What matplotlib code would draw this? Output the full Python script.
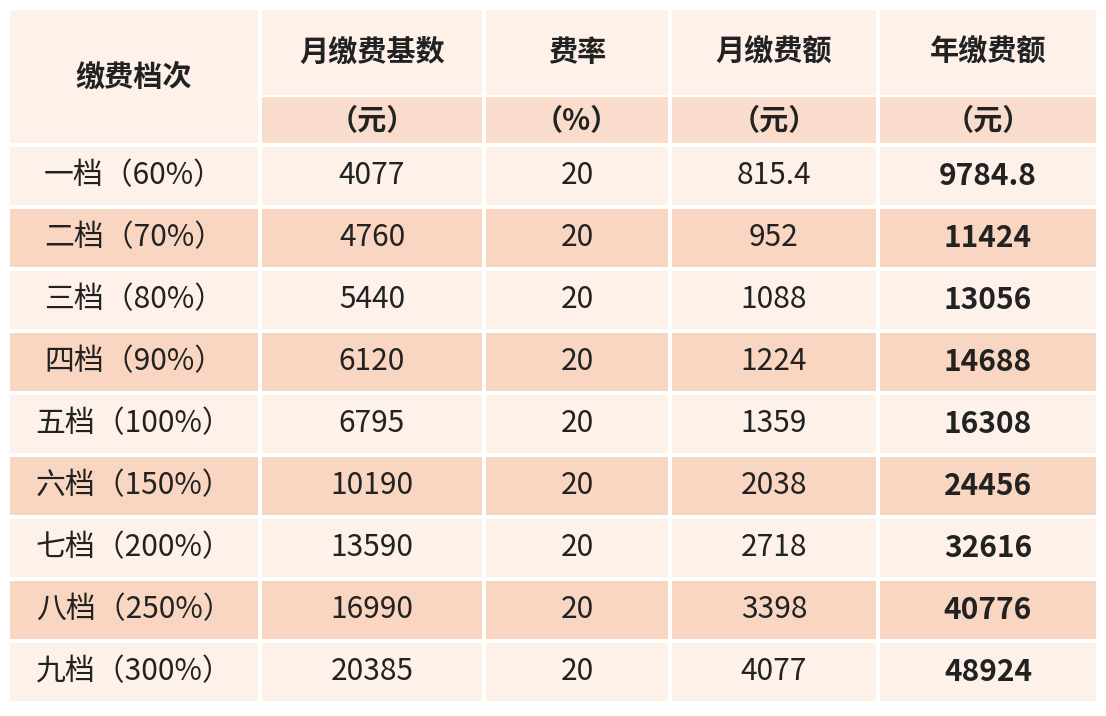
import matplotlib.pyplot as plt
from matplotlib.patches import Rectangle

plt.rcParams['font.family'] = ['Noto Sans CJK SC', 'DejaVu Sans']

header_top = ["缴费档次", "月缴费基数", "费率", "月缴费额", "年缴费额"]
header_units = ["（元）", "（%）", "（元）", "（元）"]
levels = ["一档（60%）", "二档（70%）", "三档（80%）", "四档（90%）", "五档（100%）",
          "六档（150%）", "七档（200%）", "八档（250%）", "九档（300%）"]
base = ["4077", "4760", "5440", "6120", "6795", "10190", "13590", "16990", "20385"]
rate = ["20"] * 9
monthly = ["815.4", "952", "1088", "1224", "1359", "2038", "2718", "3398", "4077"]
yearly = ["9784.8", "11424", "13056", "14688", "16308", "24456", "32616", "40776", "48924"]

W, H = 1106, 716
fig = plt.figure(figsize=(W / 100, H / 100), dpi=100)
ax = fig.add_axes([0, 0, 1, 1])
ax.set_xlim(0, W)
ax.set_ylim(H, 0)
ax.axis('off')
fig.patch.set_facecolor('white')

cols = [(10, 258), (262, 482), (486, 668), (672, 876), (880, 1096)]
light = '#fdf1ea'
dark = '#f9d6c1'
unit_bg = '#f9dccb'
txt = '#222222'
gap = 4

def cell(x0, x1, y0, y1, color):
    ax.add_patch(Rectangle((x0, y0), x1 - x0, y1 - y0, facecolor=color, edgecolor='none'))

# header
cell(*cols[0], 10, 143, light)
ax.text(sum(cols[0]) / 2, 77, header_top[0], ha='center', va='center', fontsize=21,
        fontweight='bold', color=txt)
for i in range(1, 5):
    cell(*cols[i], 10, 95, light)
    cell(*cols[i], 97, 143, unit_bg)
    ax.text(sum(cols[i]) / 2, 52, header_top[i], ha='center', va='center', fontsize=21,
            fontweight='bold', color=txt)
    ax.text(sum(cols[i]) / 2, 121, header_units[i - 1], ha='center', va='center', fontsize=21,
            fontweight='bold', color=txt)

row_h = 62
y = 147
for r in range(9):
    color = dark if r % 2 == 1 else light
    vals = [levels[r], base[r], rate[r], monthly[r], yearly[r]]
    for i, (x0, x1) in enumerate(cols):
        cell(x0, x1, y, y + row_h - 4, color)
        ax.text((x0 + x1) / 2, y + (row_h - 4) / 2, vals[i], ha='center', va='center',
                fontsize=21.5, color=txt, fontweight='bold' if i == 4 else 'normal')
    y += row_h

fig.savefig('out.png', dpi=100)
